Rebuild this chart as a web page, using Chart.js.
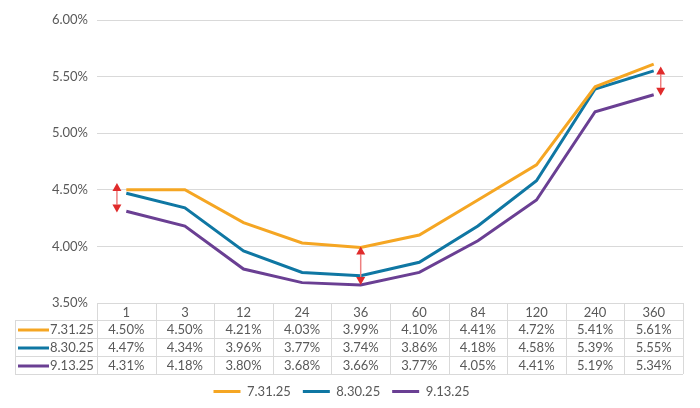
<!DOCTYPE html>
<html>
<head>
<meta charset="utf-8">
<script src="https://cdn.jsdelivr.net/npm/chart.js@4.4.1/dist/chart.umd.min.js"></script>
<style>
  html, body { margin: 0; padding: 0; background: #fff; }
  #wrap { width: 700px; height: 408px; }
</style>
</head>
<body>
<div id="wrap"><canvas id="curva"></canvas></div>
<script>
// plazos (meses) y tasas por fecha
const plazos = ['1', '3', '12', '24', '36', '60', '84', '120', '240', '360'];
const fechas = ['7.31.25', '8.30.25', '9.13.25'];
const tasas0731 = [4.50, 4.50, 4.21, 4.03, 3.99, 4.10, 4.41, 4.72, 5.41, 5.61];
const tasas0830 = [4.47, 4.34, 3.96, 3.77, 3.74, 3.86, 4.18, 4.58, 5.39, 5.55];
const tasas0913 = [4.31, 4.18, 3.80, 3.68, 3.66, 3.77, 4.05, 4.41, 5.19, 5.34];
const colores = ['#F5A623', '#0F77A3', '#6A3F93'];

// flechas rojas (posicion en categorias, valor arriba, valor abajo)
const flechaX = [-0.16, 4, 9.12];
const flechaArriba = [4.56, 4.00, 5.59];
const flechaAbajo = [4.30, 3.66, 5.33];

const gris = '#595959';
const lineaTabla = '#d9d9d9';
const fuente = '13px Lato';

const tablaDatos = {
    id: 'tablaDatos',
    afterDraw(chart) {
        const {ctx, chartArea: {left, right, bottom}, scales: {x}} = chart;
        const series = [tasas0731, tasas0830, tasas0913];
        const colW = (right - left) / plazos.length;
        const hHead = 17, hRow = 18;
        const yRows = bottom + hHead;
        const yEnd = yRows + hRow * series.length;
        const xLabel = 15;

        ctx.save();
        ctx.strokeStyle = lineaTabla;
        ctx.lineWidth = 1;
        ctx.beginPath();
        ctx.moveTo(left, bottom + 0.5); ctx.lineTo(right, bottom + 0.5);
        for (let r = 0; r <= series.length; r++) {
            const yy = Math.round(yRows + r * hRow) + 0.5;
            ctx.moveTo(xLabel, yy); ctx.lineTo(right, yy);
        }
        for (let c = 0; c <= plazos.length; c++) {
            const xx = Math.round(left + c * colW) + 0.5;
            ctx.moveTo(xx, bottom); ctx.lineTo(xx, yEnd);
        }
        ctx.moveTo(xLabel + 0.5, yRows); ctx.lineTo(xLabel + 0.5, yEnd);
        ctx.stroke();

        ctx.font = fuente;
        ctx.fillStyle = gris;
        ctx.textAlign = 'center';
        ctx.textBaseline = 'middle';
        plazos.forEach((p, i) => {
            ctx.fillText(p, x.getPixelForValue(i), bottom + hHead / 2 + 1);
        });

        series.forEach((s, r) => {
            const yc = yRows + r * hRow + hRow / 2 + 1;
            ctx.strokeStyle = colores[r];
            ctx.lineWidth = 3;
            ctx.beginPath();
            ctx.moveTo(18, yc); ctx.lineTo(49, yc);
            ctx.stroke();
            ctx.fillStyle = gris;
            ctx.textAlign = 'left';
            ctx.fillText(fechas[r], 50, yc);
            ctx.textAlign = 'center';
            s.forEach((v, i) => {
                ctx.fillText(v.toFixed(2) + '%', x.getPixelForValue(i), yc);
            });
        });
        ctx.restore();
    }
};

const flechas = {
    id: 'flechas',
    afterDatasetsDraw(chart) {
        const {ctx, scales: {x, y}} = chart;
        ctx.save();
        flechaX.forEach((fx, i) => {
            const px = x.getPixelForValue(fx);
            const yt = y.getPixelForValue(flechaArriba[i]);
            const yb = y.getPixelForValue(flechaAbajo[i]);
            const head = 8, half = 4.5;
            ctx.strokeStyle = '#EE7F7F';
            ctx.lineWidth = 1.5;
            ctx.beginPath();
            ctx.moveTo(px, yt + head); ctx.lineTo(px, yb - head);
            ctx.stroke();
            ctx.fillStyle = '#E02B2B';
            ctx.beginPath();
            ctx.moveTo(px, yt); ctx.lineTo(px - half, yt + head); ctx.lineTo(px + half, yt + head);
            ctx.closePath(); ctx.fill();
            ctx.beginPath();
            ctx.moveTo(px, yb); ctx.lineTo(px - half, yb - head); ctx.lineTo(px + half, yb - head);
            ctx.closePath(); ctx.fill();
        });
        ctx.restore();
    }
};

Chart.defaults.font.family = 'Lato';
Chart.defaults.color = gris;

const ctx = document.getElementById('curva').getContext('2d');
const curva = new Chart(ctx, {
    type: 'line',
    data: {
        labels: plazos,
        datasets: [tasas0731, tasas0830, tasas0913].map((d, i) => ({
            label: fechas[i],
            data: d,
            borderColor: colores[i],
            backgroundColor: colores[i],
            borderWidth: 3,
            pointRadius: 0,
            pointHoverRadius: 0,
            tension: 0
        }))
    },
    options: {
        responsive: true,
        maintainAspectRatio: false,
        animation: { duration: 0 },
        layout: { padding: { top: 20, left: 0, right: 17, bottom: 0 } },
        scales: {
            x: {
                offset: true,
                grid: { display: false },
                border: { display: false },
                ticks: { display: false },
                afterFit(scale) { scale.height = 70; }
            },
            y: {
                min: 3.5,
                max: 6.0,
                ticks: {
                    stepSize: 0.5,
                    padding: 9,
                    font: { size: 13 },
                    color: gris,
                    callback: v => v.toFixed(2) + '%'
                },
                grid: { color: lineaTabla, drawTicks: false },
                border: { display: false },
                afterFit(scale) { scale.width = 97; }
            }
        },
        plugins: {
            legend: {
                display: true,
                position: 'bottom',
                labels: {
                    boxWidth: 27,
                    boxHeight: 3,
                    padding: 12,
                    font: { size: 13 },
                    color: gris,
                    generateLabels(chart) {
                        return chart.data.datasets.map((ds, i) => ({
                            text: ds.label,
                            fillStyle: ds.borderColor,
                            strokeStyle: ds.borderColor,
                            lineWidth: 0,
                            hidden: !chart.isDatasetVisible(i),
                            datasetIndex: i,
                            fontColor: gris
                        }));
                    }
                }
            },
            tooltip: { enabled: false }
        }
    },
    plugins: [tablaDatos, flechas]
});
</script>
</body>
</html>
